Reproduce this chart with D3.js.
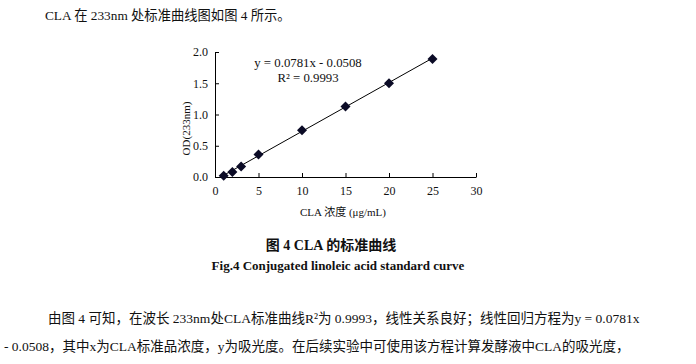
<!DOCTYPE html>
<html>
<head>
<meta charset="utf-8">
<script src="https://cdn.jsdelivr.net/npm/d3@7"></script>
<style>
  body { margin: 0; background: #fff; }
  svg text { fill: #111; }
</style>
</head>
<body>
<div id="svg"></div>
<script>
// data
var concentrations = [1, 2, 3, 5, 10, 15, 20, 25];
var absorbance = [0.02, 0.08, 0.17, 0.36, 0.75, 1.13, 1.50, 1.89];
var xTicks = [0, 5, 10, 15, 20, 25, 30];
var yTicks = [0, 0.5, 1.0, 1.5, 2.0];
var slope = 0.0781, intercept = -0.0508;

var svgWidth = 696, svgHeight = 364;
var serif = "'Liberation Serif','Times New Roman','Noto Sans CJK SC',serif";
var cjk = "'Liberation Serif','Noto Sans CJK SC',serif";

var $svg = d3.select("#svg")
    .append("svg")
    .attr("width", svgWidth)
    .attr("height", svgHeight);

// paragraph above
$svg.append("text")
    .attr("x", 45).attr("y", 20)
    .attr("font-family", cjk).attr("font-size", "13.3px")
    .text("CLA 在 233nm 处标准曲线图如图 4 所示。");

// chart area
var margin = {top: 52, left: 215};
var chartWidth = 261, chartHeight = 125;
var chartGroup = $svg.append("g")
    .attr("transform", `translate(${margin.left},${margin.top})`);

var xScale = d3.scaleLinear().domain([0, 30]).range([0, chartWidth]);
var yScale = d3.scaleLinear().domain([0, 2]).range([chartHeight, 0]);

var bottomAxis = d3.axisBottom(xScale).tickValues(xTicks)
    .tickSizeInner(-4).tickSizeOuter(0).tickPadding(9);
var leftAxis = d3.axisLeft(yScale).tickValues(yTicks)
    .tickSizeInner(-4).tickSizeOuter(0).tickPadding(7)
    .tickFormat(d3.format(".1f"));

var xg = chartGroup.append("g")
    .attr("transform", `translate(0,${chartHeight})`)
    .call(bottomAxis);
var yg = chartGroup.append("g").call(leftAxis);
[xg, yg].forEach(g => {
    g.select(".domain").attr("stroke", "#000");
    g.selectAll(".tick line").attr("stroke", "#000");
    g.selectAll(".tick text")
        .attr("font-family", serif).attr("font-size", "12px").attr("fill", "#111");
});

// trendline
chartGroup.append("line")
    .attr("x1", xScale(d3.min(concentrations)))
    .attr("y1", yScale(slope * d3.min(concentrations) + intercept))
    .attr("x2", xScale(d3.max(concentrations)))
    .attr("y2", yScale(slope * d3.max(concentrations) + intercept))
    .attr("stroke", "#000").attr("stroke-width", 1);

// diamond markers
var points = concentrations.map((c, i) => ({x: c, y: absorbance[i]}));
chartGroup.selectAll(".pt")
    .data(points)
    .enter()
    .append("path")
    .attr("class", "pt")
    .attr("d", "M0,-5L5,0L0,5L-5,0Z")
    .attr("transform", d => `translate(${xScale(d.x)},${yScale(d.y)})`)
    .attr("fill", "#0b0b26");

// equation
chartGroup.append("text")
    .attr("x", 93).attr("y", 15)
    .attr("text-anchor", "middle")
    .attr("font-family", serif).attr("font-size", "12.8px")
    .text("y = 0.0781x - 0.0508");
chartGroup.append("text")
    .attr("x", 93).attr("y", 30)
    .attr("text-anchor", "middle")
    .attr("font-family", serif).attr("font-size", "12.8px")
    .text("R² = 0.9993");

// axis labels
chartGroup.append("text")
    .attr("text-anchor", "middle")
    .attr("transform", `translate(-25,${chartHeight / 2 + 14})rotate(-90)`)
    .attr("font-family", serif).attr("font-size", "11px")
    .text("OD(233nm)");
chartGroup.append("text")
    .attr("text-anchor", "middle")
    .attr("x", 128).attr("y", chartHeight + 39)
    .attr("font-family", cjk).attr("font-size", "11px")
    .text("CLA 浓度 (μg/mL)");

// caption
$svg.append("text")
    .attr("x", 331).attr("y", 250)
    .attr("text-anchor", "middle")
    .attr("font-family", cjk).attr("font-size", "14px").attr("font-weight", "bold")
    .text("图 4 CLA 的标准曲线");
$svg.append("text")
    .attr("x", 338).attr("y", 270)
    .attr("text-anchor", "middle")
    .attr("font-family", serif).attr("font-size", "13px").attr("font-weight", "bold")
    .text("Fig.4 Conjugated linoleic acid standard curve");

// paragraph below
$svg.append("text")
    .attr("x", 48).attr("y", 323)
    .attr("font-family", cjk).attr("font-size", "13.5px")
    .text("由图 4 可知，在波长 233nm处CLA标准曲线R²为 0.9993，线性关系良好；线性回归方程为y = 0.0781x");
$svg.append("text")
    .attr("x", 4).attr("y", 351)
    .attr("font-family", cjk).attr("font-size", "13.5px")
    .text("- 0.0508，其中x为CLA标准品浓度，y为吸光度。在后续实验中可使用该方程计算发酵液中CLA的吸光度，");
</script>
</body>
</html>
